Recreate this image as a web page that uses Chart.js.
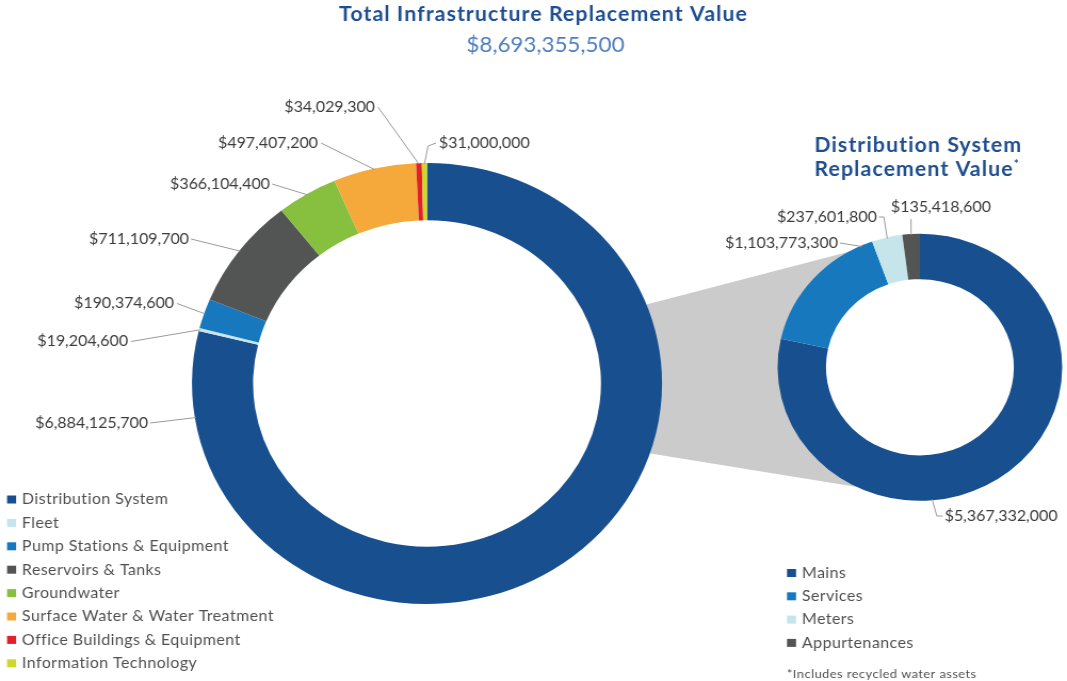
<!DOCTYPE html>
<html>
<head>
<meta charset="utf-8">
<title>Total Infrastructure Replacement Value</title>
<script src="https://cdn.jsdelivr.net/npm/chart.js@4.4.1/dist/chart.umd.min.js"></script>
<style>
  html, body { margin: 0; padding: 0; background: #fff; overflow: hidden; }
  #wrap { position: relative; width: 1067px; height: 681px; }
  canvas { position: absolute; left: 0; top: 0; }
</style>
</head>
<body>
<div id="wrap">
  <!-- the source picture is stretched a little horizontally, so the canvases are too -->
  <canvas id="totalChart" width="1001" height="681" style="width:1067px;height:681px"></canvas>
  <canvas id="distChart" width="1001" height="681" style="width:1067px;height:681px"></canvas>
</div>
<script>
// Chart data
const totalTitle = 'Total Infrastructure Replacement Value';
const totalAmount = '$8,693,355,500';
const totalCategories = [
    'Distribution System',
    'Fleet',
    'Pump Stations & Equipment',
    'Reservoirs & Tanks',
    'Groundwater',
    'Surface Water & Water Treatment',
    'Office Buildings & Equipment',
    'Information Technology'
];
const totalValues = [6884125700, 19204600, 190374600, 711109700, 366104400, 497407200, 34029300, 31000000];
const totalColors = ['#174f8f', '#c5e5eb', '#1778be', '#535554', '#87c03f', '#f5a93b', '#e2202a', '#d1d62a'];

const distTitle = ['Distribution System', 'Replacement Value'];
const distCategories = ['Mains', 'Services', 'Meters', 'Appurtenances'];
const distValues = [5367332000, 1103773300, 237601800, 135418600];
const distColors = ['#174f8f', '#1778be', '#c5e5eb', '#535554'];
const distNote = '*Includes recycled water assets';

// Label placement: where on the slice the leader starts (0..1 of its sweep),
// leader points and text point relative to the doughnut centre
const totalLabelLayout = [
    { at: 0.92, line: [[-259.8, 39.5]], text: [-261.7, 39.5], align: 'right' },
    { at: 0.5, line: [[-277.7, -42]], text: [-280.5, -42], align: 'right' },
    { at: 0.5, line: [[-234.5, -80]], text: [-237.3, -80], align: 'right' },
    { at: 0.5, line: [[-221.4, -144.5]], text: [-223.3, -144.5], align: 'right' },
    { at: 0.5, line: [[-145.4, -199.5]], text: [-147.3, -199.5], align: 'right' },
    { at: 0.5, line: [[-99.4, -240.5]], text: [-102.3, -240.5], align: 'right' },
    { at: 0.5, line: [[-46, -276.5]], text: [-48.8, -276.5], align: 'right' },
    { at: 0.5, line: [[0.9, -237.5], [8.4, -240.5]], text: [11.2, -240.5], align: 'left' }
];
const distLabelLayout = [
    { at: 0.62, line: [[15.9, 148.7], [21.5, 148.7]], text: [23.2, 148.7], align: 'left' },
    { at: 0.92, line: [[-75, -124.3]], text: [-76.9, -124.3], align: 'right' },
    { at: 0.5, line: [[-33.8, -150.3], [-38.5, -150.3]], text: [-40.3, -150.3], align: 'right' },
    { at: 0.5, line: [[-8.4, -148.3]], text: [19.7, -160.3], align: 'center' }
];

const FONT = 'Lato, "Open Sans", sans-serif';

function formatUSD(num) {
    return '$' + Number(num).toLocaleString('en-US');
}

// Value labels with leader lines
function drawSliceLabels(chart, layout, values) {
    const ctx = chart.ctx;
    const arcs = chart.getDatasetMeta(0).data;
    ctx.save();
    ctx.font = '15px ' + FONT;
    ctx.textBaseline = 'middle';
    ctx.lineWidth = 1;
    arcs.forEach((arc, i) => {
        const L = layout[i];
        const a = arc.startAngle + (arc.endAngle - arc.startAngle) * L.at;
        const r = arc.outerRadius - 1;
        ctx.strokeStyle = '#9a9a9a';
        ctx.beginPath();
        ctx.moveTo(arc.x + Math.cos(a) * r, arc.y + Math.sin(a) * r);
        L.line.forEach(p => ctx.lineTo(arc.x + p[0], arc.y + p[1]));
        ctx.stroke();
        ctx.fillStyle = '#3b3b3b';
        ctx.textAlign = L.align;
        ctx.fillText(formatUSD(values[i]), arc.x + L.text[0], arc.y + L.text[1]);
    });
    ctx.restore();
}

function drawLegend(ctx, labels, colors, x, y, step) {
    ctx.save();
    ctx.font = '15px ' + FONT;
    ctx.letterSpacing = '0.4px';
    ctx.textBaseline = 'middle';
    ctx.textAlign = 'left';
    labels.forEach((label, i) => {
        ctx.fillStyle = colors[i];
        ctx.fillRect(x, y + i * step - 4, 8.5, 8);
        ctx.fillStyle = '#505050';
        ctx.fillText(label, x + 14, y + i * step);
    });
    ctx.restore();
}

const distPlugin = {
    id: 'distExtras',
    afterDraw(chart) {
        const ctx = chart.ctx;
        drawSliceLabels(chart, distLabelLayout, distValues);
        drawLegend(ctx, distCategories, distColors, 738.3, 573, 23.3);

        ctx.save();
        ctx.fillStyle = '#1e4e90';
        ctx.textAlign = 'center';
        ctx.textBaseline = 'middle';
        ctx.font = 'bold 20px ' + FONT;
        ctx.letterSpacing = '1px';
        ctx.fillText(distTitle[0], 861.5, 146);
        const w = ctx.measureText(distTitle[1]).width;
        ctx.fillText(distTitle[1], 857.5, 170);
        ctx.font = 'bold 11px ' + FONT;
        ctx.textAlign = 'left';
        ctx.fillText('*', 857.5 + w / 2, 164);

        ctx.fillStyle = '#505050';
        ctx.font = '12px ' + FONT;
        ctx.letterSpacing = '0.45px';
        ctx.fillText(distNote, 738.3, 674);
        ctx.restore();
    }
};

// Small doughnut first so the big one can read its position for the connector
const distChart = new Chart(document.getElementById('distChart'), {
    type: 'doughnut',
    data: {
        labels: distCategories,
        datasets: [{
            data: distValues,
            backgroundColor: distColors,
            borderWidth: 0,
            hoverOffset: 0
        }]
    },
    options: {
        responsive: false,
        animation: false,
        events: [],
        cutout: '66%',
        layout: { padding: { left: 729.5, right: 4.5, top: 233.8, bottom: 180.2 } },
        plugins: { legend: { display: false }, tooltip: { enabled: false } }
    },
    plugins: [distPlugin]
});

const totalPlugin = {
    id: 'totalExtras',
    beforeDatasetsDraw(chart) {
        // grey wedge joining the two doughnuts
        const big = chart.getDatasetMeta(0).data[0];
        const small = distChart.getDatasetMeta(0).data[0];
        const R = big.outerRadius - 1;
        const r = small.outerRadius - 1;
        const d = Math.PI / 180;
        const ctx = chart.ctx;
        ctx.save();
        ctx.fillStyle = '#cbcbcb';
        ctx.beginPath();
        ctx.moveTo(big.x + R * Math.cos(-21 * d), big.y + R * Math.sin(-21 * d));
        ctx.lineTo(small.x + r * Math.cos(-118.5 * d), small.y + r * Math.sin(-118.5 * d));
        ctx.arc(small.x, small.y, r, -118.5 * d, 115 * d, true);
        ctx.lineTo(big.x + R * Math.cos(18.5 * d), big.y + R * Math.sin(18.5 * d));
        ctx.arc(big.x, big.y, R, 18.5 * d, -21 * d, true);
        ctx.closePath();
        ctx.fill();
        ctx.restore();
    },
    afterDraw(chart) {
        const ctx = chart.ctx;
        drawSliceLabels(chart, totalLabelLayout, totalValues);
        drawLegend(ctx, totalCategories, totalColors, 6.6, 499.5, 23.4);

        ctx.save();
        ctx.textAlign = 'center';
        ctx.textBaseline = 'middle';
        ctx.fillStyle = '#1e4e90';
        ctx.font = 'bold 20px ' + FONT;
        ctx.letterSpacing = '1px';
        ctx.fillText(totalTitle, 509.9, 15);
        ctx.fillStyle = '#4f7fbf';
        ctx.font = '21px ' + FONT;
        ctx.letterSpacing = '0px';
        ctx.fillText(totalAmount, 511.7, 45);
        ctx.restore();
    }
};

const totalChart = new Chart(document.getElementById('totalChart'), {
    type: 'doughnut',
    data: {
        labels: totalCategories,
        datasets: [{
            data: totalValues,
            backgroundColor: totalColors,
            borderWidth: 0,
            hoverOffset: 0
        }]
    },
    options: {
        responsive: false,
        animation: false,
        events: [],
        cutout: '74%',
        layout: { padding: { left: 180.1, right: 379.9, top: 163, bottom: 77 } },
        plugins: { legend: { display: false }, tooltip: { enabled: false } }
    },
    plugins: [totalPlugin]
});
</script>
</body>
</html>
